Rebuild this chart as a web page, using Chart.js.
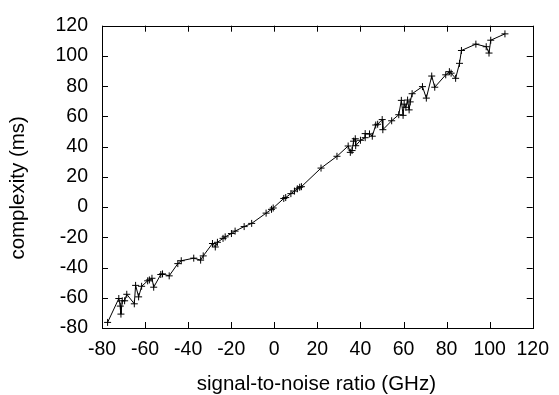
<!DOCTYPE html>
<html>
<head>
<meta charset="utf-8">
<script src="https://cdn.jsdelivr.net/npm/chart.js@4"></script>
<style>
  html,body{margin:0;padding:0;background:#fff;}
  #wrap{width:559px;height:395px;}
</style>
</head>
<body>
<div id="wrap"><canvas id="chart" width="559" height="395"></canvas></div>
<script>
// values
const snr = [-77.4,-72.2,-71.5,-71.2,-70.6,-69.5,-68.5,-65,-64.4,-63,-61.6,-58.8,-58,-56.8,-56,-52.7,-51.9,-48.8,-44.8,-43.2,-37.4,-34.2,-33,-28.7,-27.4,-26.4,-23.8,-22.8,-19.9,-18.2,-14,-10.5,-3.8,-1.3,-0.5,4.4,5.3,7.7,9.4,10.7,11.8,12.6,21.7,29.1,34.3,35.3,36.1,36.8,37.6,37.8,40,42.2,42.2,44.2,45.5,47.1,48,50.1,50.4,54.5,57.8,59,59.8,60.3,61.1,61.9,62.6,63.1,64,68.8,70.6,73.1,74.5,79.6,81.3,82.1,84.2,86,86.9,93.6,98.4,99.7,100.5,107.1];
const complexity = [-76.3,-60.5,-65.5,-70.8,-62,-62,-57.7,-64,-51.8,-59.4,-52.4,-48.8,-48.2,-47.1,-53,-44.6,-44.2,-45.5,-37.4,-35.5,-33.8,-35.1,-32.3,-24.1,-26.4,-23.3,-20.7,-19.7,-17.5,-15.9,-12.9,-10.8,-4,-1.5,-0.6,5.7,6.3,8.9,10.6,12.1,13.1,13.5,25.8,33.6,40.4,36.2,37.4,43.6,45.2,40.6,44.2,45.9,48.6,48.4,46.9,54.3,54.8,57.9,51.2,57.1,61.1,70.6,60.7,68.1,66,70.8,64.3,69.6,75,79.7,72.1,86.7,79.3,87.5,89.6,88.6,85.2,95.1,103.6,107.8,106.1,101.9,110.4,114.6];
const xTicks = [-80,-60,-40,-20,0,20,40,60,80,100,120];
const yTicks = [-80,-60,-40,-20,0,20,40,60,80,100,120];
const xTitle = "signal-to-noise ratio (GHz)";
const yTitle = "complexity (ms)";

const FAMILY = "'Liberation Sans', Arial, sans-serif";
const TICKFONT = {family:FAMILY, size:19.5};

// frame, inward ticks on all four sides, axis titles
const frame = {
  id:"frame",
  afterDraw(chart){
    const c=chart.ctx, a=chart.chartArea, sx=chart.scales.x, sy=chart.scales.y;
    c.save();
    c.strokeStyle="#000"; c.lineWidth=1;
    c.beginPath();
    xTicks.forEach(v=>{
      const p=Math.round(sx.getPixelForValue(v))+0.5;
      c.moveTo(p,a.bottom); c.lineTo(p,a.bottom-6);
      c.moveTo(p,a.top); c.lineTo(p,a.top+6);
    });
    yTicks.forEach(v=>{
      const p=Math.round(sy.getPixelForValue(v))+0.5;
      c.moveTo(a.left,p); c.lineTo(a.left+6,p);
      c.moveTo(a.right,p); c.lineTo(a.right-6,p);
    });
    c.stroke();
    c.strokeRect(Math.round(a.left)+0.5,Math.round(a.top)+0.5,Math.round(a.right-a.left),Math.round(a.bottom-a.top));

    c.fillStyle="#000";
    c.font="20.5px "+FAMILY;
    c.textAlign="center"; c.textBaseline="middle";
    c.fillText(xTitle,(a.left+a.right)/2-1,384);
    c.translate(18,(a.top+a.bottom)/2+11);
    c.rotate(-Math.PI/2);
    c.fillText(yTitle,0,0);
    c.restore();
  }
};

new Chart(document.getElementById("chart"),{
  type:"scatter",
  data:{datasets:[{
    data:snr.map((x,i)=>({x:x,y:complexity[i]})),
    showLine:true,
    borderColor:"#000",borderWidth:1,
    pointStyle:"cross",pointRadius:3.5,pointBorderWidth:1,
    pointBorderColor:"#000",pointBackgroundColor:"#000"
  }]},
  options:{
    responsive:false,animation:false,
    layout:{padding:{top:13,right:22,left:0,bottom:0}},
    plugins:{legend:{display:false},tooltip:{enabled:false}},
    scales:{
      x:{
        type:"linear",min:-80,max:120,
        afterBuildTicks:s=>{s.ticks=xTicks.map(v=>({value:v}));},
        afterFit:s=>{s.height=67;},
        grid:{display:false,drawTicks:false},border:{display:false},
        ticks:{color:"#000",font:TICKFONT,padding:10,maxRotation:0,autoSkip:false}
      },
      y:{
        type:"linear",min:-80,max:120,
        afterBuildTicks:s=>{s.ticks=yTicks.map(v=>({value:v}));},
        afterFit:s=>{s.width=102;},
        grid:{display:false,drawTicks:false},border:{display:false},
        ticks:{color:"#000",font:TICKFONT,padding:14,autoSkip:false}
      }
    }
  },
  plugins:[frame]
});
</script>
</body>
</html>
